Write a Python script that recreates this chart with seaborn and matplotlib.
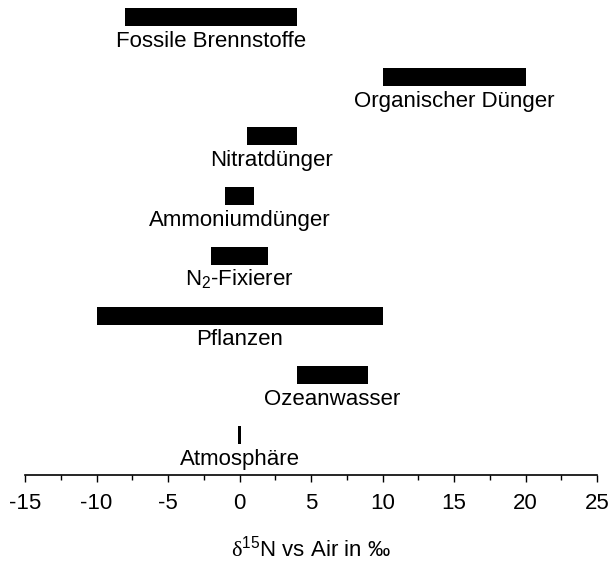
import pandas as pd
import numpy as np
import matplotlib.pyplot as plt
import seaborn as sns

# ranges of d15N per source (low, high)
sources = ["Fossile Brennstoffe", "Organischer Dünger", "Nitratdünger", "Ammoniumdünger",
           "N$_2$-Fixierer", "Pflanzen", "Ozeanwasser", "Atmosphäre"]
low = [-8, 10, 0.5, -1, -2, -10, 4, -0.12]
high = [4, 20, 4, 1, 2, 10, 9, 0.12]
xticks = [-15, -10, -5, 0, 5, 10, 15, 20, 25]

df = pd.DataFrame({"source": sources, "low": low, "high": high})
df["width"] = df["high"] - df["low"]
df["mid"] = (df["high"] + df["low"]) / 2

sns.set_style("ticks")
plt.rcParams['font.family'] = ['Liberation Sans', 'DejaVu Sans']
plt.rcParams['text.color'] = 'black'
plt.rcParams['axes.labelcolor'] = 'black'
plt.rcParams['xtick.color'] = 'black'
plt.rcParams['axes.unicode_minus'] = False
plt.rcParams['mathtext.fontset'] = 'custom'
plt.rcParams['mathtext.rm'] = 'Liberation Serif'
plt.rcParams['mathtext.default'] = 'regular'

fig = plt.figure(figsize=(6.1, 5.61), dpi=100)
ax = fig.add_axes([0.041, 0.1533, 0.938, 0.8467])

sns.barplot(data=df, x="width", y="source", left=df["low"], color="black",
            width=0.3, errorbar=None, orient="h", ax=ax, saturation=1, linewidth=0)

for i, row in df.iterrows():
    ax.text(row["mid"], i + 0.5, row["source"], ha="center", va="baseline", fontsize=16)

ax.set_xlim(-15, 25)
ax.set_ylim(7.67, -0.285)
ax.set_xticks(xticks)
ax.set_xticks(np.arange(-12.5, 25, 5), minor=True)
ax.tick_params(axis="x", which="major", length=5, width=1, labelsize=16, pad=8)
ax.tick_params(axis="x", which="minor", length=3.3, width=1)
ax.set_yticks([])
ax.set_ylabel("")
ax.set_xlabel(r"$\mathrm{\delta}^{15}$N vs Air in ‰", fontsize=16)
ax.xaxis.label.set_va("baseline")
ax.xaxis.set_label_coords(0.5, -0.172)
for s in ["top", "left", "right"]:
    ax.spines[s].set_visible(False)
ax.spines["bottom"].set_color("black")
ax.spines["bottom"].set_linewidth(1.2)

fig.savefig("out.png", dpi=100)
